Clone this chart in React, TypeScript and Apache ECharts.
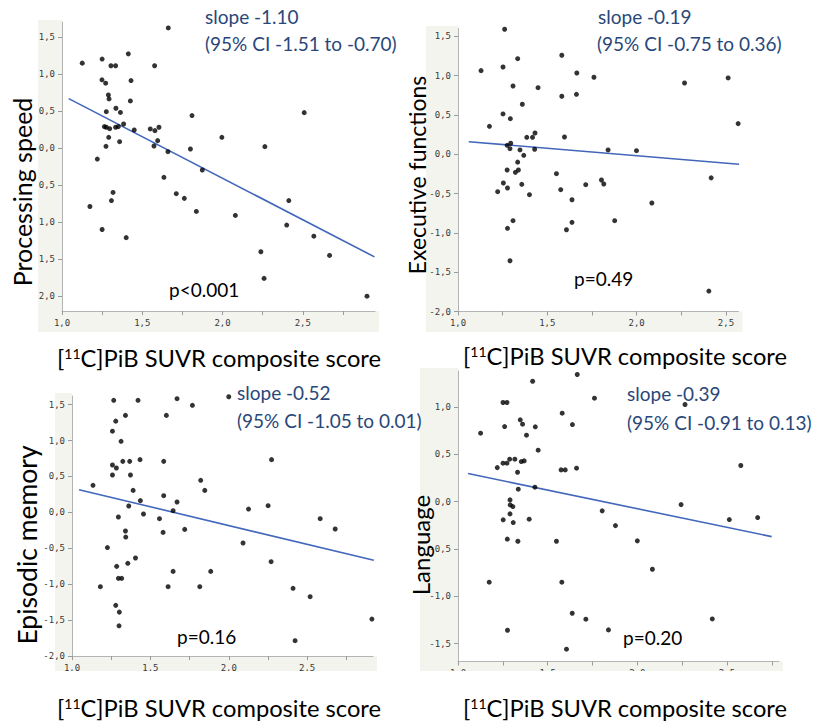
import React, { useEffect, useRef } from 'react';
import * as echarts from 'echarts';

// ---------- data ----------
const xTickValues = [1, 1.25, 1.5, 1.75, 2, 2.25, 2.5, 2.75];
const xLabelValues = [1, 1.5, 2, 2.5];
const yLabelValues = [-2, -1.5, -1, -0.5, 0, 0.5, 1, 1.5];

const procPoints = [
  [1.126, 1.145], [1.25, 1.2], [1.305, 1.11], [1.334, 1.11], [1.413, 1.27], [1.577, 1.11], [1.662, 1.62],
  [1.249, 0.92], [1.272, 0.874], [1.43, 0.91], [1.289, 0.716], [1.293, 0.662], [1.426, 0.635], [1.276, 0.49],
  [1.336, 0.536], [1.364, 0.48], [1.81, 0.437], [1.264, 0.288], [1.276, 0.28], [1.297, 0.26], [1.334, 0.28],
  [1.351, 0.288], [1.384, 0.324], [1.45, 0.243], [1.55, 0.257], [1.579, 0.234], [1.604, 0.28], [1.291, 0.144],
  [1.359, 0.085], [1.596, 0.099], [1.274, 0.022], [1.573, 0.027], [1.66, -0.05], [1.8, -0.014], [1.22, -0.15],
  [2.509, 0.477], [1.996, 0.144], [2.264, 0.018], [1.635, -0.396], [1.874, -0.297], [1.318, -0.6], [1.712, -0.617],
  [1.762, -0.68], [1.308, -0.71], [1.174, -0.79], [1.837, -0.856], [1.25, -1.1], [1.4, -1.21], [2.08, -0.91],
  [2.413, -0.71], [2.4, -1.04], [2.569, -1.19], [2.239, -1.4], [2.667, -1.45], [2.259, -1.76], [2.9, -2.0],
];
const procFit = [[1.042, 0.666], [2.947, -1.47]];

const execPoints = [
  [1.261, 1.59], [1.129, 1.064], [1.252, 1.11], [1.334, 1.216], [1.581, 1.26], [1.665, 1.034], [1.761, 0.98],
  [1.308, 0.869], [1.448, 0.847], [1.581, 0.738], [1.663, 0.763], [1.36, 0.636], [1.252, 0.513], [1.293, 0.453],
  [1.176, 0.356], [1.385, 0.216], [1.417, 0.216], [1.431, 0.271], [1.596, 0.22], [1.275, 0.114], [1.295, 0.14],
  [1.291, 0.071], [1.347, 0.055], [1.429, 0.064], [1.368, -0.013], [1.334, -0.1], [1.275, -0.2], [1.338, -0.2],
  [1.84, 0.055], [2.268, 0.907], [2.512, 0.971], [2.568, 0.39], [1.999, 0.046], [1.321, -0.23], [1.551, -0.247],
  [1.803, -0.327], [1.816, -0.378], [1.254, -0.365], [1.357, -0.382], [1.715, -0.387], [1.222, -0.476],
  [1.277, -0.429], [1.575, -0.45], [1.4, -0.514], [1.638, -0.578], [1.308, -0.845], [1.638, -0.866],
  [1.877, -0.845], [1.277, -0.942], [1.607, -0.96], [1.291, -1.354], [2.417, -0.3], [2.085, -0.62], [2.404, -1.74],
];
const execFit = [[1.06, 0.16], [2.573, -0.127]];

const episPoints = [
  [1.266, 1.56], [1.421, 1.56], [1.67, 1.583], [1.768, 1.49], [1.341, 1.35], [1.602, 1.35], [1.279, 1.27],
  [1.258, 1.13], [1.313, 0.989], [1.324, 0.71], [1.368, 0.71], [1.434, 0.734], [1.585, 0.71], [1.258, 0.659],
  [1.283, 0.617], [1.258, 0.52], [1.373, 0.52], [1.821, 0.446], [1.134, 0.376], [1.847, 0.306], [1.39, 0.306],
  [1.585, 0.232], [1.436, 0.163], [1.67, 0.144], [1.362, 0.088], [1.645, 0.023], [1.456, -0.023], [1.296, -0.065],
  [1.558, -0.088], [1.341, -0.26], [1.581, -0.279], [1.719, -0.237], [1.343, -0.344], [2.273, 0.734],
  [2.126, 0.046], [2.251, 0.093], [2.583, -0.088], [2.679, -0.232], [2.091, -0.427], [2.27, -0.687],
  [1.885, -0.822], [2.41, -1.058], [2.519, -1.174], [2.913, -1.486], [2.423, -1.787], [1.226, -0.49],
  [1.405, -0.636], [1.285, -0.752], [1.356, -0.71], [1.645, -0.822], [1.296, -0.919], [1.317, -0.919],
  [1.181, -1.035], [1.613, -1.035], [1.815, -1.035], [1.279, -1.295], [1.302, -1.389], [1.3, -1.58], [2.0, 1.61],
];
const episFit = [[1.045, 0.316], [2.925, -0.668]];

const langPoints = [
  [1.665, 1.343], [1.416, 1.272], [1.761, 1.093], [2.266, 1.026], [1.251, 1.047], [1.273, 1.047], [1.581, 0.934],
  [1.26, 0.793], [1.347, 0.864], [1.36, 0.818], [1.431, 0.79], [1.638, 0.814], [1.126, 0.723], [1.382, 0.702],
  [1.447, 0.543], [1.219, 0.359], [1.251, 0.406], [1.273, 0.406], [1.288, 0.448], [1.317, 0.448], [1.353, 0.423],
  [1.369, 0.43], [1.332, 0.31], [1.575, 0.335], [1.598, 0.335], [1.661, 0.353], [2.577, 0.381], [1.336, 0.131],
  [1.429, 0.152], [1.29, 0.018], [1.291, -0.035], [1.306, -0.053], [1.29, -0.13], [1.252, -0.193], [1.308, -0.222],
  [1.397, -0.186], [1.804, -0.098], [2.244, -0.032], [1.878, -0.254], [2.513, -0.19], [2.671, -0.169],
  [1.275, -0.397], [1.334, -0.419], [1.549, -0.419], [2.0, -0.415], [2.084, -0.715], [1.174, -0.852],
  [1.579, -0.852], [1.637, -1.18], [1.713, -1.243], [2.418, -1.24], [1.276, -1.36], [1.839, -1.356], [1.605, -1.56],
];
const langFit = [[1.056, 0.296], [2.749, -0.37]];

const yTitles = ['Processing speed', 'Executive functions', 'Episodic memory', 'Language'];
const slopeTexts = ['slope -1.10', 'slope -0.19', 'slope -0.52', 'slope -0.39'];
const ciTexts = ['(95% CI -1.51 to -0.70)', '(95% CI -0.75 to 0.36)', '(95% CI -1.05 to 0.01)', '(95% CI -0.91 to 0.13)'];
const pTexts = ['p<0.001', 'p=0.49', 'p=0.16', 'p=0.20'];

// ---------- layout ----------
const panels = [
  { grid: { left: 62, top: 22, width: 313, height: 289 }, x: [1, 2.95], y: [-2.2, 1.7], absY: true,
    points: procPoints, fit: procFit,
    yTitle: [22, 192, 25], xTitle: [219, 358], slope: [205, 16], ci: [205, 43], p: [169, 289],
    band: [38, 20, 62, 332] },
  { grid: { left: 458, top: 28.5, width: 280.5, height: 283 }, x: [1, 2.57], y: [-2.0, 1.6], absY: false,
    points: execPoints, fit: execFit,
    yTitle: [417, 175, 23], xTitle: [625, 356], slope: [598, 16], ci: [597, 43], p: [574, 278],
    band: [426, 26, 458, 332] },
  { grid: { left: 72, top: 396, width: 301, height: 260 }, x: [1, 2.92], y: [-2.0, 1.62], absY: false,
    points: episPoints, fit: episFit,
    yTitle: [27, 545, 26.5], xTitle: [219, 708], slope: [237, 392], ci: [237, 420], p: [177, 636],
    band: [55, 393, 72, 672] },
  { grid: { left: 458, top: 371, width: 321, height: 290.5 }, x: [1, 2.79], y: [-1.69, 1.38], absY: false,
    points: langPoints, fit: langFit,
    yTitle: [420, 545, 24], xTitle: [625, 708], slope: [627, 393], ci: [627, 422], p: [623, 637],
    band: [420, 368, 458, 672] },
];

const FONT = 'Lato, "Open Sans", sans-serif';
const BLUE_TEXT = '#2a4779';
const LINE_BLUE = '#4267bb';

const fmt = (v: number) => v.toFixed(1).replace('.', ',');

function buildOption() {
  const grids: any[] = [];
  const xAxes: any[] = [];
  const yAxes: any[] = [];
  const series: any[] = [];
  const graphics: any[] = [];

  panels.forEach((p, i) => {
    grids.push({ ...p.grid, containLabel: false });
    xAxes.push({
      gridIndex: i, type: 'value', min: p.x[0], max: p.x[1],
      axisLine: { show: true, onZero: false, lineStyle: { color: '#b4b4b4', width: 1 } },
      axisTick: { show: true, length: 4, customValues: xTickValues.filter(v => v <= p.x[1]), lineStyle: { color: '#9a9a9a' } },
      axisLabel: { customValues: xLabelValues.filter(v => v <= p.x[1]), formatter: (v: number) => fmt(v),
        fontSize: 9, color: '#3a3a3a', fontFamily: '"DejaVu Sans Mono", monospace', margin: 7 },
      splitLine: { show: false },
    });
    yAxes.push({
      gridIndex: i, type: 'value', min: p.y[0], max: p.y[1],
      axisLine: { show: true, onZero: false, lineStyle: { color: '#b4b4b4', width: 1 } },
      axisTick: { show: true, length: 4, customValues: yLabelValues.filter(v => v >= p.y[0] && v <= p.y[1]), lineStyle: { color: '#9a9a9a' } },
      axisLabel: { customValues: yLabelValues.filter(v => v >= p.y[0] && v <= p.y[1]),
        formatter: (v: number) => fmt(p.absY ? Math.abs(v) : v),
        fontSize: 9, color: '#3a3a3a', fontFamily: '"DejaVu Sans Mono", monospace', margin: 7 },
      splitLine: { show: false },
    });
    series.push({
      type: 'scatter', xAxisIndex: i, yAxisIndex: i, data: p.points,
      symbol: 'circle', symbolSize: 5, itemStyle: { color: '#000' }, z: 3,
    });
    series.push({
      type: 'line', xAxisIndex: i, yAxisIndex: i, data: p.fit, symbol: 'none',
      lineStyle: { color: LINE_BLUE, width: 1.6 }, z: 2,
    });

    const [bx0, by0, bx1, by1] = p.band;
    const axisBottom = p.grid.top + p.grid.height;
    const axisRight = p.grid.left + p.grid.width;
    graphics.push({ type: 'rect', z: -10, shape: { x: bx0, y: by0, width: bx1 - bx0, height: by1 - by0 }, style: { fill: '#f4f4ef' } });
    graphics.push({ type: 'rect', z: -10, shape: { x: bx1, y: axisBottom, width: axisRight + 4 - bx1, height: by1 - axisBottom }, style: { fill: '#f4f4ef' } });

    graphics.push({
      type: 'text', x: p.yTitle[0], y: p.yTitle[1], rotation: Math.PI / 2, z: 60,
      style: { text: yTitles[i], fill: '#000', fontSize: p.yTitle[2], fontFamily: FONT,
        align: 'center', verticalAlign: 'middle', textAlign: 'center', textVerticalAlign: 'middle' },
    });
    graphics.push({
      type: 'text', x: p.xTitle[0], y: p.xTitle[1], z: 60,
      style: {
        text: '[{sup|11}C]PiB SUVR composite score', fill: '#000', fontSize: 23.7, fontFamily: FONT,
        align: 'center', verticalAlign: 'middle', textAlign: 'center', textVerticalAlign: 'middle',
        rich: { sup: { fontSize: 14, fontFamily: FONT, fill: '#000', verticalAlign: 'top' } },
      },
    });
    graphics.push({
      type: 'text', x: p.slope[0], y: p.slope[1], z: 60,
      style: { text: slopeTexts[i], fill: BLUE_TEXT, fontSize: 19, fontFamily: FONT,
        align: 'left', verticalAlign: 'middle', textAlign: 'left', textVerticalAlign: 'middle' },
    });
    graphics.push({
      type: 'text', x: p.ci[0], y: p.ci[1], z: 60,
      style: { text: ciTexts[i], fill: BLUE_TEXT, fontSize: 19, fontFamily: FONT,
        align: 'left', verticalAlign: 'middle', textAlign: 'left', textVerticalAlign: 'middle' },
    });
    graphics.push({
      type: 'text', x: p.p[0], y: p.p[1], z: 60,
      style: { text: pTexts[i], fill: '#000', fontSize: 19, fontFamily: FONT,
        align: 'left', verticalAlign: 'middle', textAlign: 'left', textVerticalAlign: 'middle' },
    });
  });

  graphics.push({ type: 'rect', z: 50, shape: { x: 0, y: 671, width: 813, height: 60 }, style: { fill: '#fff' } });

  return {
    animation: false,
    backgroundColor: '#fff',
    grid: grids,
    xAxis: xAxes,
    yAxis: yAxes,
    series,
    graphic: { elements: graphics },
  };
}

export default function App() {
  const ref = useRef<HTMLDivElement>(null);
  useEffect(() => {
    if (!ref.current) return;
    const chart = echarts.init(ref.current, null, { renderer: 'svg' });
    chart.setOption(buildOption() as any);
    return () => chart.dispose();
  }, []);
  return (
    <div
      ref={ref}
      style={{ position: 'absolute', left: 0, top: 0, width: 813, height: 722, background: '#fff' }}
    />
  );
}
